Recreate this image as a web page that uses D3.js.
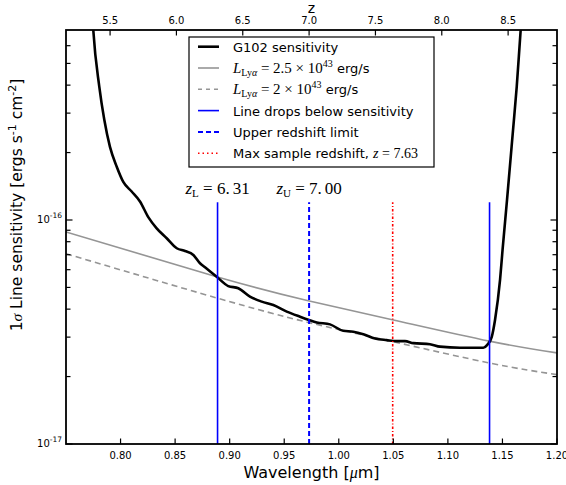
<!DOCTYPE html>
<html>
<head>
<meta charset="utf-8">
<script src="https://cdn.jsdelivr.net/npm/d3@7"></script>
<style>
  body { margin: 0; background: #fff; }
  text { font-family: "DejaVu Sans", sans-serif; }
  .math { font-family: "Liberation Serif", serif; }
</style>
</head>
<body>
<div id="chart"></div>
<script>
var margin = {top: 30, right: 9, bottom: 41, left: 66},
    width = 566 - margin.left - margin.right,
    height = 485 - margin.top - margin.bottom;

// G102 1-sigma line sensitivity
var g102Wave = [0.7734, 0.7750, 0.7805, 0.7851, 0.7903, 0.7965, 0.8025, 0.8102, 0.8178, 0.8254,
                0.8331, 0.8423, 0.8515, 0.8591, 0.8667, 0.8728, 0.8774, 0.8881, 0.8987, 0.9079,
                0.9186, 0.9294, 0.9400, 0.9523, 0.9645, 0.9727, 0.9798, 0.9920, 1.0041, 1.0133,
                1.0225, 1.0332, 1.0439, 1.0531, 1.0607, 1.0683, 1.0836, 1.0928, 1.1111, 1.1325,
                1.1361, 1.1402, 1.1432, 1.1478, 1.1501, 1.1542, 1.1597, 1.1631, 1.1667, 1.1688];
var g102Sens = [9.60e-16, 7.05e-16, 3.94e-16, 2.80e-16, 2.12e-16, 1.73e-16, 1.48e-16, 1.34e-16, 1.21e-16, 1.03e-16,
                9.18e-17, 8.29e-17, 7.48e-17, 7.27e-17, 6.98e-17, 6.41e-17, 6.15e-17, 5.58e-17, 5.07e-17, 4.96e-17,
                4.55e-17, 4.32e-17, 4.17e-17, 3.90e-17, 3.70e-17, 3.58e-17, 3.49e-17, 3.42e-17, 3.20e-17, 3.17e-17,
                3.09e-17, 2.96e-17, 2.91e-17, 2.88e-17, 2.88e-17, 2.82e-17, 2.79e-17, 2.72e-17, 2.69e-17, 2.69e-17,
                2.77e-17, 3.01e-17, 3.58e-17, 5.40e-17, 7.35e-17, 1.23e-16, 2.52e-16, 3.94e-16, 7.05e-16, 9.60e-16];

// Lya line flux for two luminosities
var lumWave = [0.75, 0.888, 0.972, 1.05, 1.138, 1.20];
var lum25Sens = [8.84e-17, 5.58e-17, 4.36e-17, 3.58e-17, 2.88e-17, 2.55e-17];
var lum20Sens = [7.07e-17, 4.49e-17, 3.49e-17, 2.86e-17, 2.30e-17, 2.04e-17];

// redshift markers
var zLow = 6.31, zUp = 7.00, zMax = 7.63, zDrop = 8.36;
var markerTop = 1.2e-16;

var xTicks = [0.80, 0.85, 0.90, 0.95, 1.00, 1.05, 1.10, 1.15, 1.20];
var zTicks = [5.5, 6.0, 6.5, 7.0, 7.5, 8.0, 8.5];
var yMinor = [2e-17, 3e-17, 4e-17, 5e-17, 6e-17, 7e-17, 8e-17, 9e-17,
              2e-16, 3e-16, 4e-16, 5e-16, 6e-16];
var yMajor = [1e-17, 1e-16];

var lyaRest = 0.1216; // micron
var toWave = function(z) { return (1 + z) * lyaRest; };

var x = d3.scaleLinear().domain([0.75, 1.20]).range([0, width]);
var xTop = d3.scaleLinear().domain([0.75 / lyaRest - 1, 1.20 / lyaRest - 1]).range([0, width]);
var y = d3.scaleLog().domain([1e-17, 7.05e-16]).range([height, 0]);

var svg = d3.select("#chart").append("svg")
    .attr("width", 566)
    .attr("height", 485)
  .append("g")
    .attr("transform", "translate(" + margin.left + "," + margin.top + ")");

svg.append("defs").append("clipPath").attr("id", "clip")
  .append("rect").attr("width", width).attr("height", height);

var plot = svg.append("g").attr("clip-path", "url(#clip)");

var line = d3.line()
    .x(function(d) { return x(d[0]); })
    .y(function(d) { return y(d[1]); });

var smooth = d3.line()
    .x(function(d) { return x(d[0]); })
    .y(function(d) { return y(d[1]); })
    .curve(d3.curveNatural);

plot.append("path")
    .datum(d3.zip(lumWave, lum25Sens))
    .attr("d", smooth)
    .attr("fill", "none")
    .attr("stroke", "#959595")
    .attr("stroke-width", 1.6);

plot.append("path")
    .datum(d3.zip(lumWave, lum20Sens))
    .attr("d", smooth)
    .attr("fill", "none")
    .attr("stroke", "#959595")
    .attr("stroke-width", 1.6)
    .attr("stroke-dasharray", "6,4");

plot.append("path")
    .datum(d3.zip(g102Wave, g102Sens))
    .attr("d", line.curve(d3.curveMonotoneX))
    .attr("fill", "none")
    .attr("stroke", "#000")
    .attr("stroke-width", 2.6)
    .attr("stroke-linejoin", "round");

var markers = [
  {z: zLow, color: "#0000ff", dash: null, w: 1.6},
  {z: zUp, color: "#0000ff", dash: "5,3", w: 2},
  {z: zMax, color: "#ff0000", dash: "2.5,2,1,2", w: 1.6},
  {z: zDrop, color: "#0000ff", dash: null, w: 1.6}
];

plot.selectAll(".marker")
    .data(markers)
  .enter().append("line")
    .attr("class", "marker")
    .attr("x1", function(d) { return x(toWave(d.z)); })
    .attr("x2", function(d) { return x(toWave(d.z)); })
    .attr("y1", y(1e-17))
    .attr("y2", y(markerTop))
    .attr("stroke", function(d) { return d.color; })
    .attr("stroke-width", function(d) { return d.w; })
    .attr("stroke-dasharray", function(d) { return d.dash; });

// z labels
var zLabels = [{z: zLow, sub: "L", val: zLow}, {z: zUp, sub: "U", val: zUp}];
zLabels.forEach(function(d) {
  var s = d.val.toFixed(2).split(".");
  var t = svg.append("text")
      .attr("class", "math")
      .attr("x", x(toWave(d.z)))
      .attr("y", y(markerTop) - 8)
      .attr("text-anchor", "middle")
      .style("font-size", "17px");
  t.append("tspan").style("font-style", "italic").text("z");
  t.append("tspan").attr("dy", 3).style("font-size", "11px").text(d.sub);
  t.append("tspan").attr("dy", -3).text(" = " + s[0] + ".");
  t.append("tspan").attr("dx", 3).text(s[1]);
});

// frame
svg.append("rect")
    .attr("width", width)
    .attr("height", height)
    .attr("fill", "none")
    .attr("stroke", "#000")
    .attr("stroke-width", 1.8);

// bottom axis
var xb = svg.append("g").attr("transform", "translate(0," + height + ")");
xb.selectAll("line").data(xTicks).enter().append("line")
    .attr("x1", function(d) { return x(d); })
    .attr("x2", function(d) { return x(d); })
    .attr("y1", 0).attr("y2", -5.5)
    .attr("stroke", "#000").attr("stroke-width", 1.2);
xb.selectAll("text").data(xTicks).enter().append("text")
    .attr("x", function(d) { return x(d); })
    .attr("y", 15)
    .attr("text-anchor", "middle")
    .style("font-size", "10px")
    .text(function(d) { return d.toFixed(2); });
svg.append("text")
    .attr("x", width / 2)
    .attr("y", height + 34)
    .attr("text-anchor", "middle")
    .style("font-size", "16px")
    .html("Wavelength [<tspan class='math' font-style='italic'>μ</tspan>m]");

// top axis (redshift)
var xt = svg.append("g");
xt.selectAll("line").data(zTicks).enter().append("line")
    .attr("x1", function(d) { return xTop(d); })
    .attr("x2", function(d) { return xTop(d); })
    .attr("y1", 0).attr("y2", 5.5)
    .attr("stroke", "#000").attr("stroke-width", 1.2);
xt.selectAll("text").data(zTicks).enter().append("text")
    .attr("x", function(d) { return xTop(d); })
    .attr("y", -6)
    .attr("text-anchor", "middle")
    .style("font-size", "10px")
    .text(function(d) { return d.toFixed(1); });
svg.append("text")
    .attr("x", width / 2)
    .attr("y", -17)
    .attr("text-anchor", "middle")
    .style("font-size", "14px")
    .text("z");

// y ticks, both sides
[0, width].forEach(function(side) {
  var dir = side === 0 ? 1 : -1;
  svg.append("g").selectAll("line").data(yMajor).enter().append("line")
      .attr("x1", side).attr("x2", side + dir * 6.5)
      .attr("y1", function(d) { return y(d); })
      .attr("y2", function(d) { return y(d); })
      .attr("stroke", "#000").attr("stroke-width", 1.2);
  svg.append("g").selectAll("line").data(yMinor).enter().append("line")
      .attr("x1", side).attr("x2", side + dir * 4.5)
      .attr("y1", function(d) { return y(d); })
      .attr("y2", function(d) { return y(d); })
      .attr("stroke", "#000").attr("stroke-width", 1.2);
});
var yl = svg.append("g").selectAll("text").data(yMajor).enter().append("text")
    .attr("x", -4)
    .attr("y", function(d) { return y(d) + 3; })
    .attr("text-anchor", "end")
    .style("font-size", "10px");
yl.append("tspan").text("10");
yl.append("tspan").attr("dy", -5).style("font-size", "7.5px")
    .text(function(d) { return "-" + Math.round(-Math.log10(d)); });

svg.append("text")
    .attr("transform", "translate(-44," + (height / 2 - 32) + ") rotate(-90)")
    .attr("text-anchor", "middle")
    .style("font-size", "15.5px")
    .html("1<tspan class='math' font-style='italic'>σ</tspan> Line sensitivity [ergs s<tspan dy='-6' font-size='11px'>-1</tspan><tspan dy='6'> cm</tspan><tspan dy='-6' font-size='11px'>-2</tspan><tspan dy='6'>]</tspan>");

// legend
var legendEntries = [
  {color: "#000", w: 2.6, dash: null, label: "G102 sensitivity"},
  {color: "#959595", w: 1.6, dash: null, lum: "2.5"},
  {color: "#959595", w: 1.6, dash: "4,4", lum: "2"},
  {color: "#0000ff", w: 1.6, dash: null, label: "Line drops below sensitivity"},
  {color: "#0000ff", w: 2, dash: "5,3", label: "Upper redshift limit"},
  {color: "#ff0000", w: 1.6, dash: "1.5,3", label: "Max sample redshift, ", zval: zMax}
];

var lg = svg.append("g").attr("transform", "translate(" + (189 - margin.left) + "," + (37 - margin.top) + ")");
lg.append("rect")
    .attr("width", 245)
    .attr("height", 130)
    .attr("fill", "#fff")
    .attr("stroke", "#000")
    .attr("stroke-width", 1.2);

var rows = lg.selectAll(".row").data(legendEntries).enter().append("g")
    .attr("class", "row")
    .attr("transform", function(d, i) { return "translate(0," + (9.7 + i * 21.3) + ")"; });
rows.append("line")
    .attr("x1", 9).attr("x2", 30)
    .attr("stroke", function(d) { return d.color; })
    .attr("stroke-width", function(d) { return d.w; })
    .attr("stroke-dasharray", function(d) { return d.dash; });
rows.each(function(d) {
  var t = d3.select(this).append("text")
      .attr("x", 44)
      .attr("y", 5)
      .style("font-size", "13px");
  if (d.lum) {
    t.append("tspan").attr("class", "math").style("font-style", "italic").style("font-size", "15px").text("L");
    t.append("tspan").attr("class", "math").attr("dy", 3).style("font-size", "10px").text("Ly");
    t.append("tspan").attr("class", "math").style("font-style", "italic").style("font-size", "10px").text("α");
    t.append("tspan").attr("class", "math").attr("dy", -3).style("font-size", "15px").text(" = " + d.lum + " × 10");
    t.append("tspan").attr("class", "math").attr("dy", -6).style("font-size", "10px").text("43");
    t.append("tspan").attr("dy", 6).text(" erg/s");
  } else {
    t.append("tspan").text(d.label);
    if (d.zval) {
      t.append("tspan").attr("class", "math").style("font-style", "italic").style("font-size", "14px").text("z");
      t.append("tspan").attr("class", "math").style("font-size", "14px").text(" = " + d.zval.toFixed(2));
    }
  }
});
</script>
</body>
</html>
